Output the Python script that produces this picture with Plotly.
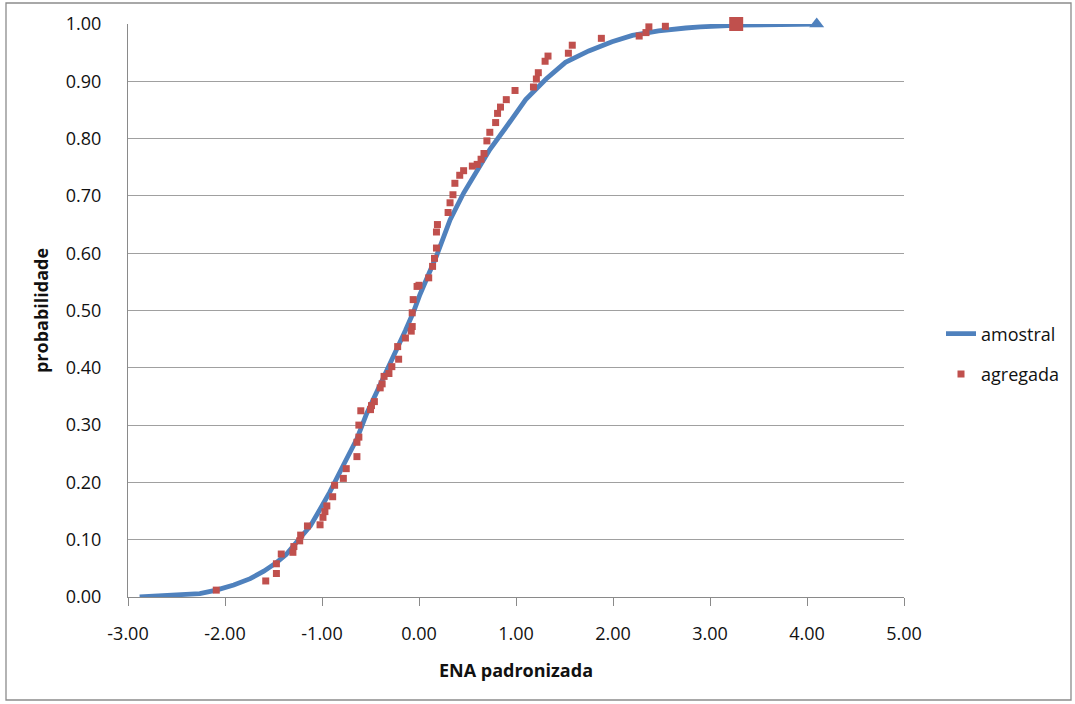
import plotly.graph_objects as go

amostral_x = [-2.88, -2.57, -2.26, -2.09, -1.91, -1.74, -1.60, -1.47, -1.37, -1.23,
              -1.12, -1.02, -0.92, -0.78, -0.64, -0.54, -0.44, -0.33, -0.20, -0.14,
              -0.06, 0.01, 0.18, 0.32, 0.46, 0.60, 0.73, 0.89, 1.10, 1.31,
              1.51, 1.75, 1.99, 2.20, 2.47, 2.75, 2.90, 3.30, 3.70, 4.10]
amostral_y = [0.000, 0.002, 0.006, 0.012, 0.021, 0.032, 0.045, 0.060, 0.074, 0.102,
              0.124, 0.153, 0.183, 0.230, 0.276, 0.320, 0.356, 0.393, 0.440, 0.465,
              0.496, 0.528, 0.595, 0.658, 0.705, 0.746, 0.781, 0.818, 0.868, 0.904,
              0.933, 0.953, 0.969, 0.980, 0.988, 0.993, 0.995, 0.998, 0.999, 1.000]

# agregada points
agregada_x = [-2.09, -1.58, -1.47, -1.47, -1.42, -1.30, -1.29, -1.23, -1.22, -1.15,
              -1.02, -0.99, -0.97, -0.95, -0.89, -0.87, -0.78, -0.75, -0.64, -0.64,
              -0.62, -0.62, -0.60, -0.50, -0.49, -0.46, -0.40, -0.38, -0.36, -0.31,
              -0.28, -0.21, -0.22, -0.14, -0.08, -0.07, -0.07, -0.06, -0.02, 0.00,
              0.10, 0.14, 0.16, 0.18, 0.18, 0.19, 0.30, 0.32, 0.35, 0.37,
              0.42, 0.46, 0.55, 0.60, 0.64, 0.67, 0.70, 0.73, 0.79, 0.81,
              0.84, 0.90, 0.99, 1.18, 1.21, 1.23, 1.30, 1.33, 1.54, 1.58,
              1.88, 2.27, 2.34, 2.37, 2.54, 3.27]
agregada_y = [0.012, 0.028, 0.041, 0.058, 0.075, 0.078, 0.088, 0.098, 0.108, 0.124,
              0.126, 0.139, 0.149, 0.159, 0.175, 0.195, 0.207, 0.224, 0.245, 0.270,
              0.279, 0.300, 0.325, 0.327, 0.334, 0.341, 0.365, 0.372, 0.385, 0.390,
              0.402, 0.415, 0.437, 0.452, 0.464, 0.472, 0.496, 0.519, 0.542, 0.544,
              0.557, 0.577, 0.591, 0.609, 0.637, 0.650, 0.671, 0.688, 0.702, 0.722,
              0.736, 0.744, 0.752, 0.755, 0.764, 0.774, 0.796, 0.811, 0.828, 0.844,
              0.855, 0.868, 0.884, 0.890, 0.904, 0.915, 0.935, 0.944, 0.949, 0.963,
              0.975, 0.979, 0.985, 0.995, 0.996, 1.000]

x_ticks = [-3, -2, -1, 0, 1, 2, 3, 4, 5]
y_ticks = [0.0, 0.1, 0.2, 0.3, 0.4, 0.5, 0.6, 0.7, 0.8, 0.9, 1.0]

BLUE = "#4F81BD"
RED = "#C0504D"
FONT = "Open Sans"

fig = go.Figure()
fig.add_trace(go.Scatter(x=amostral_x, y=amostral_y, mode="lines", name="amostral",
                         line=dict(color=BLUE, width=4.8), legendgroup="a", cliponaxis=False))
fig.add_trace(go.Scatter(x=[amostral_x[-1]], y=[amostral_y[-1]], mode="markers",
                         marker=dict(symbol="triangle-up", color=BLUE, size=13),
                         showlegend=False, legendgroup="a", cliponaxis=False))
fig.add_trace(go.Scatter(x=agregada_x[:-1], y=agregada_y[:-1], mode="markers", name="agregada",
                         marker=dict(symbol="square", color=RED, size=7), legendgroup="b",
                         cliponaxis=False))
fig.add_trace(go.Scatter(x=[agregada_x[-1]], y=[agregada_y[-1]], mode="markers",
                         marker=dict(symbol="square", color=RED, size=14),
                         showlegend=False, legendgroup="b", cliponaxis=False))

W, H = 1075, 704
PL, PR, PT, PB = 128, 904, 24, 597  # plot area in window pixels
L, T = PL, PT
R, B = W - PR, H - PB
pw, ph = PR - PL, PB - PT

def px_x(p):
    return (p - PL) / pw

def px_y(p):
    return (PB - p) / ph

def cx(p):
    return p / W

def cy(p):
    return 1 - p / H

fig.update_layout(
    width=W, height=H,
    margin=dict(l=L, r=R, t=T, b=B, autoexpand=False),
    paper_bgcolor="white", plot_bgcolor="white",
    font=dict(family=FONT, size=18, color="#111111"),
    showlegend=True,
    legend=dict(xref="container", yref="container", x=cx(941), y=cy(354),
                xanchor="left", yanchor="middle",
                font=dict(family=FONT, size=18, color="#111111"),
                tracegroupgap=14, bgcolor="rgba(0,0,0,0)"),
    xaxis=dict(range=[-3, 5], tickvals=x_ticks, ticktext=[f"{v:.2f}" for v in x_ticks],
               showgrid=False, zeroline=False, showline=True, linecolor="#8a8a8a", linewidth=1.3,
               ticks="outside", ticklen=8, tickcolor="#8a8a8a", tickwidth=1.3,
               ticklabelstandoff=12, automargin=False,
               title=dict(text="<b>ENA padronizada</b>", standoff=20,
                          font=dict(family=FONT, size=18, color="#111111"))),
    yaxis=dict(range=[0, 1], tickvals=y_ticks, ticktext=[f"{v:.2f}" for v in y_ticks],
               showgrid=True, gridcolor="#a0a0a0", gridwidth=1.3, zeroline=False,
               showline=True, linecolor="#8a8a8a", linewidth=1.3, ticks="",
               ticklabelstandoff=22, automargin=False,
               title=dict(text="<b>probabilidade</b>", standoff=12,
                          font=dict(family=FONT, size=18, color="#111111"))),
    shapes=[dict(type="rect", xref="paper", yref="paper",
                 x0=px_x(6), x1=px_x(1071), y0=px_y(700), y1=px_y(3),
                 line=dict(color="#8c8c8c", width=1.3), fillcolor="rgba(0,0,0,0)", layer="below")],
)

fig.write_html("out.html", config={"displayModeBar": False},
               post_script="document.body.style.margin='0';")
